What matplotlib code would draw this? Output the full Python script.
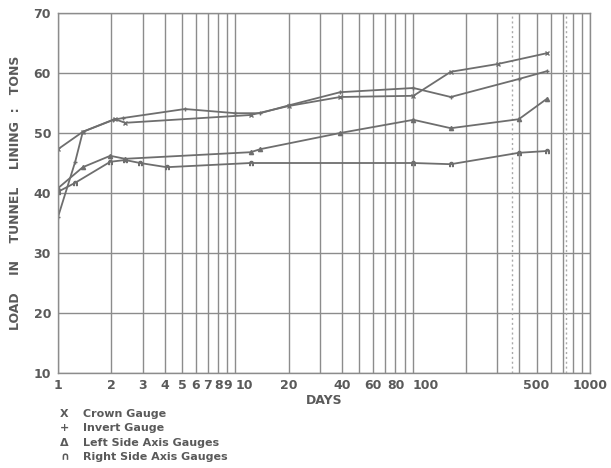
import matplotlib
matplotlib.use('Agg')
import matplotlib.pyplot as plt
from matplotlib.ticker import FixedLocator, FixedFormatter, NullFormatter, LogLocator

# values (days, tons)
crown_days = [1, 1.38, 2.1, 2.39, 12.2, 20, 39, 101, 164, 302, 571]
crown_load = [47.3, 50.2, 52.3, 51.7, 53.0, 54.5, 56.0, 56.2, 60.2, 61.5, 63.3]

invert_days = [1, 1.25, 1.38, 2.04, 2.33, 5.2, 10, 13.8, 20, 39, 101, 164, 397, 571]
invert_load = [36.0, 45.2, 50.2, 52.2, 52.5, 54.0, 53.3, 53.3, 54.6, 56.8, 57.5, 56.0, 59.0, 60.3]

left_days = [1, 1.38, 1.97, 2.39, 12.2, 13.8, 39, 101, 164, 397, 571]
left_load = [40.8, 44.3, 46.2, 45.7, 46.8, 47.3, 50.0, 52.2, 50.8, 52.3, 55.7]

right_days = [1, 1.25, 1.97, 2.39, 2.9, 4.1, 12.2, 101, 164, 397, 571]
right_load = [40.2, 41.7, 45.2, 45.5, 45.0, 44.3, 45.0, 45.0, 44.8, 46.7, 47.0]

x_labels = [1, 2, 3, 4, 5, 6, 7, 8, 9, 10, 20, 40, 60, 80, 100, 500, 1000]
y_ticks = [10, 20, 30, 40, 50, 60, 70]

legend_symbols = ['X', '+', 'Δ', '∩']
legend_names = ['Crown Gauge', 'Invert Gauge', 'Left Side Axis Gauges',
                'Right Side Axis Gauges']

ink = '#5a5a5a'
grid_ink = '#8c8c8c'

fig = plt.figure(figsize=(6.11, 4.68), dpi=100)
ax = fig.add_axes([58 / 611, 1 - 373 / 468, 532 / 611, 360 / 468])

ax.set_xscale('log')
ax.set_xlim(1, 1000)
ax.set_ylim(10, 70)

ax.xaxis.set_major_locator(FixedLocator(x_labels))
ax.xaxis.set_major_formatter(FixedFormatter([str(v) for v in x_labels]))
ax.xaxis.set_minor_locator(LogLocator(base=10, subs=range(1, 10)))
ax.xaxis.set_minor_formatter(NullFormatter())
ax.set_yticks(y_ticks)

ax.grid(True, which='both', axis='x', color=grid_ink, lw=1.0)
ax.grid(True, which='major', axis='y', color=grid_ink, lw=1.0)
ax.tick_params(which='both', length=0, colors=ink, labelsize=9)
ax.tick_params(axis='x', pad=4)
ax.tick_params(axis='y', pad=5)
for lab in ax.get_xticklabels() + ax.get_yticklabels():
    lab.set_fontweight('bold')
# the crowded 10 and 100 labels sit just right of their grid lines
for lab in ax.get_xticklabels():
    if lab.get_text() in ('10', '100'):
        lab.set_horizontalalignment('left')
for s in ax.spines.values():
    s.set_color(grid_ink)
    s.set_linewidth(1.0)

# faint dotted lines from the scan (1 and 2 years)
for d in (365, 730):
    ax.axvline(d, color='#aaaaaa', lw=1.0, ls=(0, (1.5, 2)))

series = [(crown_days, crown_load, 'x'), (invert_days, invert_load, '+'),
          (left_days, left_load, '^'), (right_days, right_load, '$\\cap$')]
for days, load, m in series:
    ax.plot(days, load, color='#6e6e6e', lw=1.3, marker=m, ms=3,
            mfc='#6e6e6e', mec='#6e6e6e')

ax.set_xlabel('DAYS', color=ink, fontsize=9, fontweight='bold', labelpad=2)
ax.set_ylabel('LOAD    IN    TUNNEL    LINING  :   TONS', color=ink, fontsize=9,
              fontweight='bold', labelpad=8)

for i, (sym, name) in enumerate(zip(legend_symbols, legend_names)):
    y = 1 - (414 + 14.3 * i) / 468
    fig.text(60 / 611, y, sym, color=ink, fontsize=8, fontweight='bold',
             ha='left', va='center')
    fig.text(83 / 611, y, name, color=ink, fontsize=8, fontweight='bold',
             ha='left', va='center')

fig.savefig('out.png', dpi=100)
